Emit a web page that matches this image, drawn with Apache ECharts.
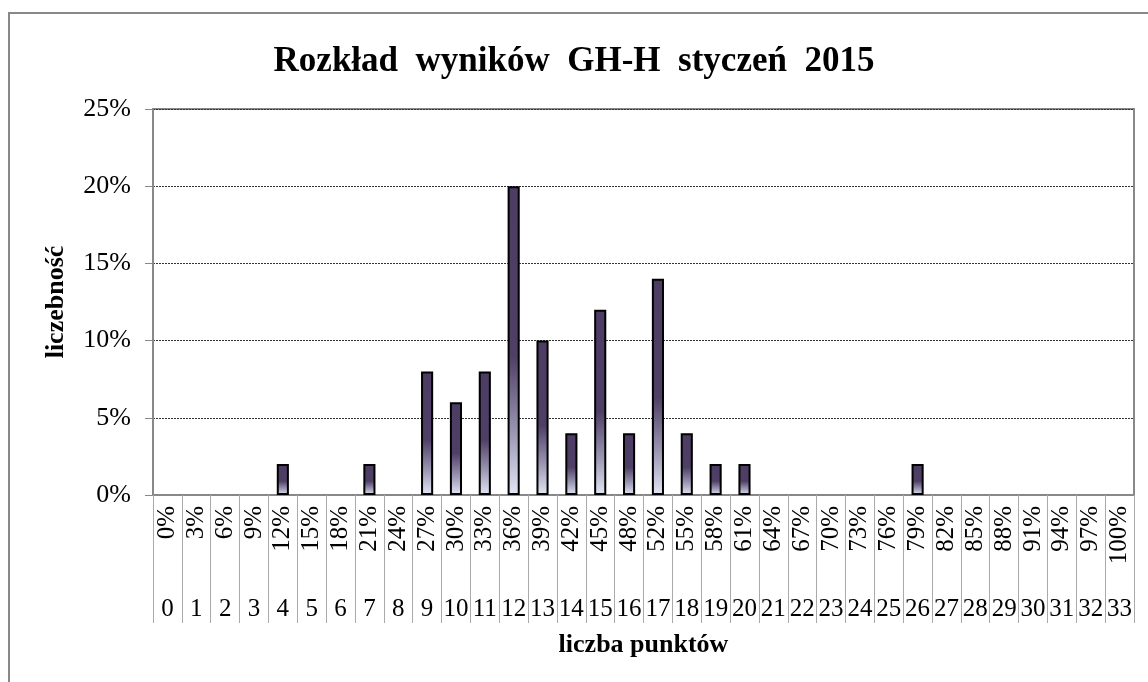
<!DOCTYPE html>
<html>
<head>
<meta charset="utf-8">
<script src="https://cdn.jsdelivr.net/npm/echarts@6/dist/echarts.min.js"></script>
<style>
  html, body { margin: 0; padding: 0; background: #fff; }
  #chart { width: 1148px; height: 682px; }
</style>
</head>
<body>
<div id="chart"></div>
<script>
const points = ['0', '1', '2', '3', '4', '5', '6', '7', '8', '9', '10', '11', '12', '13', '14', '15', '16',
  '17', '18', '19', '20', '21', '22', '23', '24', '25', '26', '27', '28', '29', '30', '31', '32', '33'];
const percentLabels = ['0%', '3%', '6%', '9%', '12%', '15%', '18%', '21%', '24%', '27%', '30%', '33%', '36%',
  '39%', '42%', '45%', '48%', '52%', '55%', '58%', '61%', '64%', '67%', '70%', '73%', '76%', '79%', '82%',
  '85%', '88%', '91%', '94%', '97%', '100%'];
// share of results per point score
const shares = [0, 0, 0, 0, 0.02, 0, 0, 0.02, 0, 0.08, 0.06, 0.08, 0.20, 0.10, 0.04, 0.12, 0.04,
  0.14, 0.04, 0.02, 0.02, 0, 0, 0, 0, 0, 0.02, 0, 0, 0, 0, 0, 0, 0];

const FONT = "'Liberation Serif', 'Times New Roman', serif";

const chart = echarts.init(document.getElementById('chart'));

const barFill = new echarts.graphic.LinearGradient(0, 0, 0, 1, [
  { offset: 0, color: '#4d3c63' },
  { offset: 0.55, color: '#4f3f66' },
  { offset: 0.8, color: '#9c97b3' },
  { offset: 1, color: '#e2e7f5' }
]);

chart.setOption({
  animation: false,
  textStyle: { fontFamily: FONT },
  title: {
    text: 'Rozkład  wyników  GH-H  styczeń  2015',
    left: 'center',
    top: 39,
    textStyle: { fontFamily: FONT, fontSize: 35, fontWeight: 'bold', color: '#000' }
  },
  graphic: [{
    type: 'rect',
    shape: { x: 9, y: 13, width: 1200, height: 720 },
    style: { fill: 'none', stroke: '#888', lineWidth: 2 },
    silent: true
  }],
  grid: {
    left: 153, top: 109, right: 14, bottom: 187,
    show: true, borderColor: '#888', borderWidth: 2
  },
  xAxis: [
    {
      type: 'category',
      data: percentLabels,
      axisLine: { lineStyle: { color: '#888', width: 2 } },
      axisTick: { show: true, length: 128, interval: 0, lineStyle: { color: '#aaa', width: 1 } },
      axisLabel: { interval: 0, rotate: 90, margin: 11, fontFamily: FONT, fontSize: 25, color: '#000' }
    },
    {
      type: 'category',
      data: points,
      position: 'bottom',
      axisLine: { show: false },
      axisTick: { show: false },
      axisLabel: { interval: 0, margin: 102, fontFamily: FONT, fontSize: 25, color: '#000' },
      name: 'liczba punktów',
      nameLocation: 'middle',
      nameGap: 137,
      nameTextStyle: { fontFamily: FONT, fontSize: 26, fontWeight: 'bold', color: '#000' }
    }
  ],
  yAxis: {
    type: 'value',
    min: 0,
    max: 0.25,
    interval: 0.05,
    name: 'liczebność',
    nameLocation: 'middle',
    nameGap: 84,
    nameTextStyle: { fontFamily: FONT, fontSize: 26, fontWeight: 'bold', color: '#000' },
    axisLine: { show: true, lineStyle: { color: '#888', width: 2 } },
    axisTick: { show: true, length: 8, lineStyle: { color: '#888', width: 1 } },
    axisLabel: {
      margin: 22, fontFamily: FONT, fontSize: 26, color: '#000',
      formatter: (v) => Math.round(v * 100) + '%'
    },
    splitLine: { lineStyle: { color: '#333', width: 1, type: [2, 1] } }
  },
  series: [{
    type: 'bar',
    xAxisIndex: 0,
    // empty scores have no bar at all
    data: shares.map((v) => (v === 0 ? '-' : v)),
    barWidth: '42%',
    itemStyle: { color: barFill, borderColor: '#000', borderWidth: 2 }
  }]
});
</script>
</body>
</html>
